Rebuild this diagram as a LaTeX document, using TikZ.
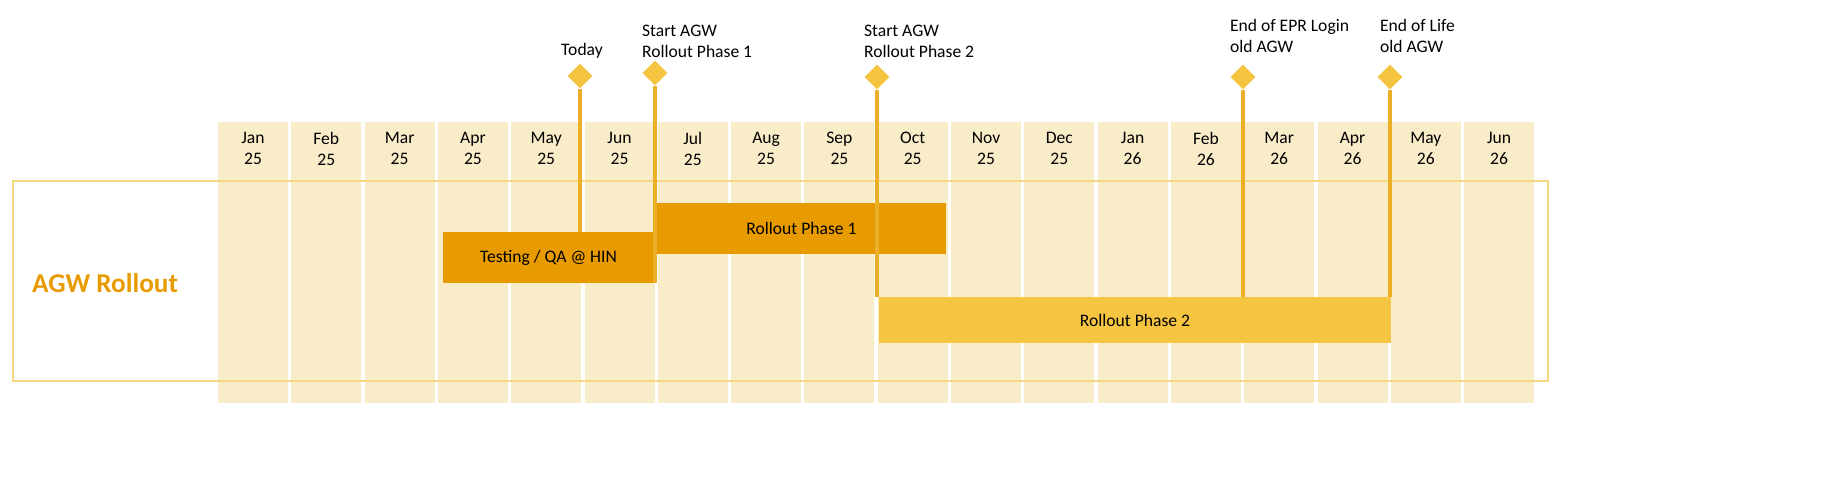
\documentclass[tikz,border=0pt]{standalone}
\usepackage{fontspec}
\setmainfont{Carlito}
\usetikzlibrary{shapes.geometric}
\definecolor{mcol}{RGB}{249,236,201}
\definecolor{morange}{RGB}{232,155,0}
\definecolor{myellow}{RGB}{245,197,66}
\definecolor{mline}{RGB}{236,176,40}
\definecolor{mframe}{RGB}{246,216,130}

\begin{document}
\begin{tikzpicture}[x=0.02cm, y=-0.02cm,
    month/.style={fill=mcol, draw=none},
    monthlabel/.style={align=center, font=\fontsize{10}{12}\selectfont, anchor=north},
    bar/.style={draw=none, minimum height=#1*0.02cm, font=\fontsize{10}{12}\selectfont},
    milestone/.style={diamond, fill=myellow, draw=none, inner sep=0pt, minimum size=0.5cm},
    mlabel/.style={align=left, anchor=south west, font=\fontsize{10}{12}\selectfont, inner sep=1pt},
    mstem/.style={draw=mline, line width=2.2pt},
]
\useasboundingbox (0,0) rectangle (1833,496);

% month columns
\foreach \i in {0,...,17}{
  \fill[month] (218+\i*73.3,122) rectangle ++(70,281);
}
\foreach \a/\b [count=\i from 0] in {Jan/25,Feb/25,Mar/25,Apr/25,May/25,Jun/25,Jul/25,Aug/25,Sep/25,Oct/25,Nov/25,Dec/25,Jan/26,Feb/26,Mar/26,Apr/26,May/26,Jun/26}{
  \node[monthlabel] (m\i) at (253+\i*73.3,126) {\a\\\b};
}

\draw[mframe, line width=0.8pt] (13,181) rectangle (1548,381);
\node[font=\bfseries\fontsize{15.5}{18}\selectfont, text=morange] (title) at (105,283) {AGW Rollout};

% bars
\node[bar=51, fill=morange, minimum width=211*0.02cm] (test) at (548.5,257.5) {Testing / QA @ HIN};
\node[bar=51, fill=morange, minimum width=289*0.02cm] (p1) at (801.5,228.5) {Rollout Phase 1};
\node[bar=46, fill=myellow, minimum width=512*0.02cm] (p2) at (1135,320) {Rollout Phase 2};

% milestones
\node[milestone] (today) at (580,76) {};
\node[milestone] (s1) at (655,73) {};
\node[milestone] (s2) at (877,77) {};
\node[milestone] (epr) at (1243,77) {};
\node[milestone] (eol) at (1390,77) {};

\draw[mstem] (today.south) -- (580,232);
\draw[mstem] (s1.south) -- (655,283);
\draw[mstem] (s2.south) -- (877,297);
\draw[mstem] (epr.south) -- (1243,297);
\draw[mstem] (eol.south) -- (1390,297);

\node[mlabel, anchor=south] at (582,60) {Today};
\node[mlabel] at (640,60) {Start AGW\\Rollout Phase 1};
\node[mlabel] at (862,60) {Start AGW\\Rollout Phase 2};
\node[mlabel] at (1228,55) {End of EPR Login\\old AGW};
\node[mlabel] at (1378,55) {End of Life\\old AGW};
\end{tikzpicture}
\end{document}
